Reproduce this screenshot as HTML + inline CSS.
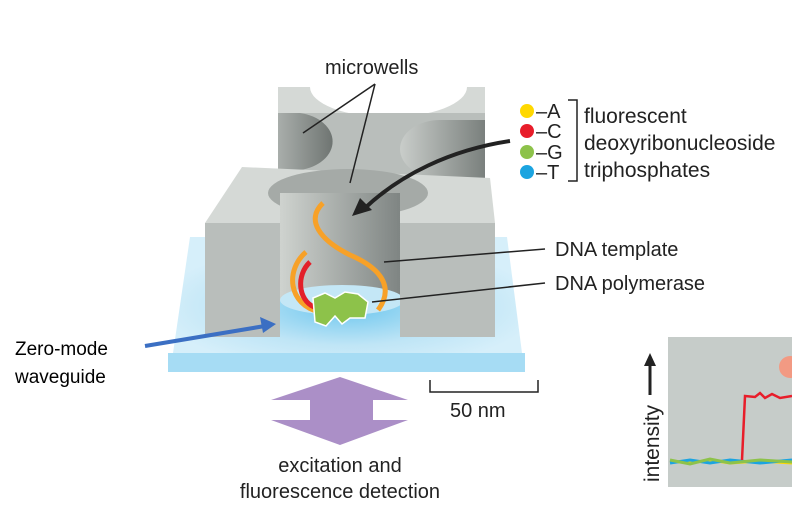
<!DOCTYPE html>
<html><head><meta charset="utf-8"><style>
body{margin:0;background:#fff}
svg{display:block}
text{font-family:"Liberation Sans",sans-serif;fill:#222}
</style></head><body>
<svg width="792" height="512" viewBox="0 0 792 512" xmlns="http://www.w3.org/2000/svg">
<defs>
<radialGradient id="glow" cx="0.5" cy="0.6" r="0.55">
<stop offset="0" stop-color="#6cc6ee"/><stop offset="0.6" stop-color="#bfe5f6"/><stop offset="1" stop-color="#d6effa"/></radialGradient>
<linearGradient id="cyl" x1="0" x2="1"><stop offset="0" stop-color="#cfd3cf"/><stop offset="1" stop-color="#7f8583"/></linearGradient>
<linearGradient id="cylL" x1="0" x2="1"><stop offset="0" stop-color="#a9aeab"/><stop offset="1" stop-color="#6f7572"/></linearGradient>
<linearGradient id="cylR" x1="0" x2="1"><stop offset="0" stop-color="#c9cdca"/><stop offset="1" stop-color="#7a807d"/></linearGradient>
</defs>
<!-- slab -->
<polygon points="173,353 522,353 507,237 190,237" fill="url(#glow)"/>
<rect x="168" y="353" width="357" height="19" fill="#a6dcf4"/>
<!-- back block -->
<rect x="278" y="87" width="207" height="92" fill="#d5d9d6"/>
<path d="M310,87 A78,30 0 0 0 467,87 Z" fill="#fff"/>
<rect x="278" y="113" width="207" height="66" fill="#b9bebb"/>
<path d="M278,113 L300,113 A40,29 0 0 1 300,170 L278,170 Z" fill="url(#cylL)"/>
<path d="M485,120 L440,120 A40,29 0 0 0 440,178 L485,178 Z" fill="url(#cylR)"/>
<!-- front block top -->
<polygon points="205,223 242,167 490,178 495,223" fill="#d5d9d6"/>
<ellipse cx="348" cy="193" rx="80" ry="24" fill="#a5aaa7"/>
<!-- cylinder interior -->
<path d="M280,193 L280,300 L400,300 L400,193 Z" fill="url(#cyl)"/>
<ellipse cx="342" cy="300" rx="62" ry="15" fill="#c4e7f6"/>
<!-- front faces -->
<rect x="205" y="223" width="75" height="114" fill="#b9bebb"/>
<rect x="400" y="223" width="95" height="114" fill="#b9bebb"/>
<!-- DNA -->
<path d="M323,203 C305,220 320,240 350,255 C385,270 393,290 378,310" fill="none" stroke="#f7a128" stroke-width="5"/>
<path d="M306,252 C285,270 288,305 320,312" fill="none" stroke="#f7a128" stroke-width="5"/>
<path d="M310,262 C296,275 298,300 314,307" fill="none" stroke="#e3202a" stroke-width="5"/>
<path d="M313,298 L325,293 L335,298 L345,292 L358,294 L368,302 L365,318 L350,318 L342,324 L335,316 L326,326 L315,322 Z" fill="#8dc24a" stroke="#fff" stroke-width="1.5"/>
<!-- labels lines -->
<line x1="375" y1="84" x2="303" y2="133" stroke="#222" stroke-width="1.5"/>
<line x1="375" y1="84" x2="350" y2="183" stroke="#222" stroke-width="1.5"/>
<text x="325" y="74" font-size="20">microwells</text>
<path d="M510,141 C450,150 400,175 365,208" fill="none" stroke="#222" stroke-width="4"/>
<polygon points="352,216 360,198 372,210" fill="#222"/>
<line x1="384" y1="262" x2="545" y2="249" stroke="#222" stroke-width="1.5"/>
<line x1="372" y1="302" x2="545" y2="283" stroke="#222" stroke-width="1.5"/>
<text x="555" y="256" font-size="20">DNA template</text>
<text x="555" y="290" font-size="20">DNA polymerase</text>
<!-- legend -->
<circle cx="527" cy="111" r="7" fill="#ffd800"/>
<circle cx="527" cy="131" r="7" fill="#e81d2a"/>
<circle cx="527" cy="152" r="7" fill="#8dc24a"/>
<circle cx="527" cy="172" r="7" fill="#1ba4e0"/>
<text x="536" y="118" font-size="20">–A</text>
<text x="536" y="138" font-size="20">–C</text>
<text x="536" y="159" font-size="20">–G</text>
<text x="536" y="179" font-size="20">–T</text>
<path d="M568,100 L577,100 L577,181 L568,181" fill="none" stroke="#222" stroke-width="1.5"/>
<text x="584" y="123" font-size="21">fluorescent</text>
<text x="584" y="150" font-size="21">deoxyribonucleoside</text>
<text x="584" y="177" font-size="21">triphosphates</text>
<!-- zero mode -->
<text x="15" y="355" font-size="19" style="fill:#000">Zero-mode</text>
<text x="15" y="383" font-size="19" style="fill:#000">waveguide</text>
<line x1="145" y1="346" x2="265" y2="326" stroke="#3b6fc3" stroke-width="4"/>
<polygon points="276,324 260,317 263,333" fill="#3b6fc3"/>
<!-- purple arrow -->
<polygon points="340,377 408,400 373,400 373,420 408,420 340,445 271,420 310,420 310,400 271,400" fill="#ab8fc7"/>
<path d="M430,380 L430,392 L538,392 L538,380" fill="none" stroke="#222" stroke-width="1.5"/>
<text x="450" y="417" font-size="20">50 nm</text>
<text x="340" y="472" font-size="20" text-anchor="middle">excitation and</text>
<text x="340" y="498" font-size="20" text-anchor="middle">fluorescence detection</text>
<!-- plot -->
<rect x="668" y="337" width="124" height="150" fill="#c6ccc9"/>
<text transform="translate(659,482) rotate(-90)" font-size="21">intensity</text>
<line x1="650" y1="395" x2="650" y2="363" stroke="#222" stroke-width="3"/>
<polygon points="650,353 644,366 656,366" fill="#222"/>
<path d="M670,461 L690,463 L710,460 L730,463 L760,461 L792,463" fill="none" stroke="#ffd800" stroke-width="3"/>
<path d="M670,463 L690,460 L710,463 L730,460 L760,463 L792,460" fill="none" stroke="#1ba4e0" stroke-width="3"/>
<path d="M670,460 L690,464 L710,459 L730,463 L760,460 L792,462" fill="none" stroke="#8dc24a" stroke-width="3"/>
<path d="M742,460 L745,396 L755,397 L760,393 L765,398 L772,394 L780,398 L792,396" fill="none" stroke="#e81d2a" stroke-width="2.5"/>
<circle cx="790" cy="367" r="11" fill="#f29a83"/>
</svg>
</body></html>
